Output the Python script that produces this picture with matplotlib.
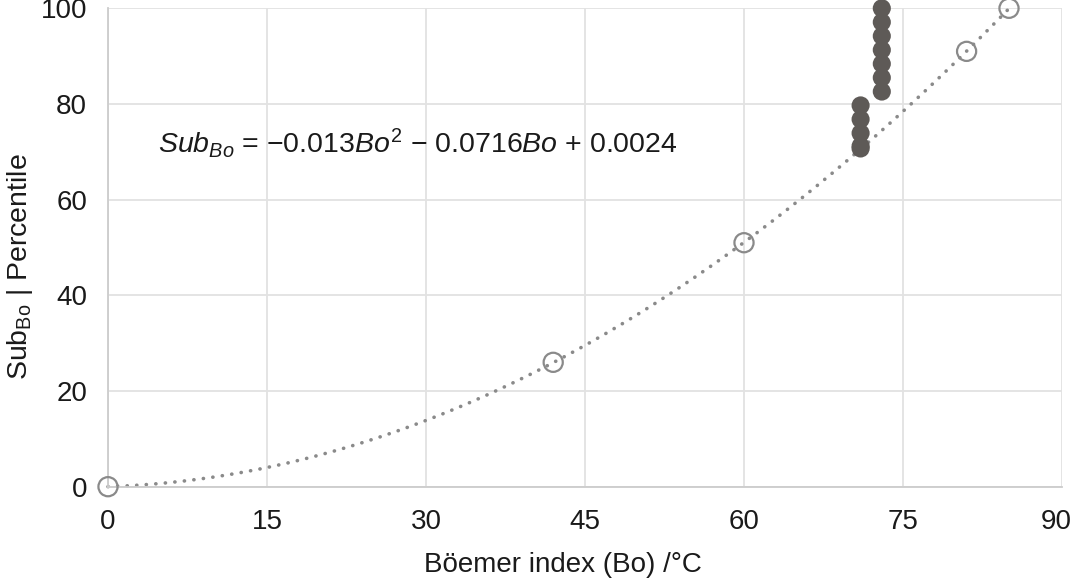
import numpy as np
import matplotlib
matplotlib.use("Agg")
import matplotlib.pyplot as plt
import matplotlib.transforms as mtrans

plt.rcParams['font.family'] = ['Liberation Sans', 'DejaVu Sans']
plt.rcParams['mathtext.fontset'] = 'custom'
plt.rcParams['mathtext.rm'] = 'Liberation Sans'
plt.rcParams['mathtext.it'] = 'Liberation Sans:italic'
plt.rcParams['mathtext.bf'] = 'Liberation Sans:bold'

# Open circles (fitted reference points)
bo_ref = [0, 42, 60, 81, 85]
sub_ref = [0, 26, 51, 91, 100]

# Filled points
bo_obs = [73, 73, 73, 73, 73, 73, 73, 71, 71, 71, 71, 71]
sub_obs = [100.0, 97.1, 94.2, 91.3, 88.4, 85.5, 82.6, 79.7, 76.8, 73.9, 71.2, 70.7]

x_ticks = [0, 15, 30, 45, 60, 75, 90]
y_ticks = [0, 20, 40, 60, 80, 100]

fig = plt.figure(figsize=(10.73, 5.80), dpi=100)
ax = fig.add_axes([108/1073, (580-486.7)/580, (1062-108)/1073, (486.7-8.3)/580])

ax.set_xlim(0, 90)
ax.set_ylim(0, 100)
ax.set_xticks(x_ticks)
ax.set_yticks(y_ticks)
ax.grid(True, color='#e2e2e2', linewidth=1.3)
ax.set_axisbelow(True)
for s in ['top', 'right']:
    ax.spines[s].set_visible(False)
for s in ['left', 'bottom']:
    ax.spines[s].set_color('#cccccc')
    ax.spines[s].set_linewidth(1.3)
ax.tick_params(length=0, labelsize=20, colors='#1a1a1a')
ax.tick_params(axis='x', pad=16)
ax.tick_params(axis='y', pad=15)

# Trendline (quadratic fit of the reference points)
coef = np.polyfit(bo_ref, sub_ref, 2)
xf = np.linspace(0, max(bo_ref), 300)
ax.plot(xf, np.polyval(coef, xf), color='#8a8a8a', linewidth=2.6,
        linestyle=(0, (0.05, 2.6)), dash_capstyle='round', clip_on=False, zorder=2)

ax.scatter(bo_ref, sub_ref, s=190, facecolors='none', edgecolors='#8a8a8a',
           linewidths=1.6, clip_on=False, zorder=3)
ax.scatter(bo_obs, sub_obs, s=170, color='#5e5a57', edgecolors='none',
           clip_on=False, zorder=4)

ax.text(4.7, 71.8,
        r"$\mathit{Sub}_{\mathit{Bo}}$ = $-$0.013$\mathit{Bo}^{2}$ $-$ 0.0716$\mathit{Bo}$ + 0.0024",
        fontsize=20.5, va='center', ha='left', color='#1a1a1a')

ax.set_xlabel("Böemer index (Bo) /°C", fontsize=20, color='#1a1a1a')
ax.xaxis.set_label_coords(0.477, -0.136)
ax.set_ylabel(r"Sub$_{\mathrm{Bo}}$ | Percentile", fontsize=20.5, color='#1a1a1a')
ax.yaxis.set_label_coords(-0.0765, 0.461)

# nudge the last x tick label inward so it stays inside the figure
fig.canvas.draw()
last = ax.get_xticklabels()[-1]
last.set_transform(last.get_transform() + mtrans.ScaledTranslation(-6/100, 0, fig.dpi_scale_trans))

fig.savefig("out.png", dpi=100)
